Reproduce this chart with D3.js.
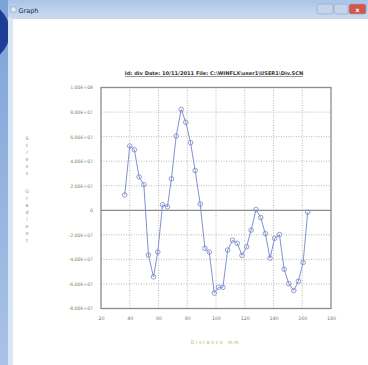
<!DOCTYPE html>
<html>
<head>
<meta charset="utf-8">
<script src="https://cdn.jsdelivr.net/npm/d3@7/dist/d3.min.js"></script>
<style>
  html, body { margin: 0; padding: 0; background: #fff; }
  svg { display: block; }
</style>
</head>
<body>
<svg id="chart" width="368" height="365"></svg>
<script>
// Measured profile: distance (mm) and signal value
const distance = [36.5, 40.0, 43.2, 46.5, 49.8, 53.0, 56.5, 59.5, 62.8, 66.2,
                  69.0, 72.3, 75.8, 79.0, 82.3, 85.5, 89.0, 92.3, 95.3, 98.8,
                  101.8, 104.8, 108.1, 111.5, 114.8, 118.1, 121.3, 124.4, 127.9, 131.1,
                  134.3, 137.6, 140.8, 144.1, 147.4, 150.6, 154.1, 157.3, 160.6, 163.8];
const values = [12.5e6, 52.3e6, 49.3e6, 27.2e6, 20.9e6, -36.5e6, -54.2e6, -34.0e6, 4.5e6, 2.9e6,
                25.6e6, 60.5e6, 82.1e6, 71.7e6, 55.1e6, 32.4e6, 5.1e6, -31.0e6, -34.0e6, -67.4e6,
                -62.7e6, -62.7e6, -32.4e6, -24.4e6, -26.9e6, -36.7e6, -29.7e6, -16.2e6, 0.7e6, -5.9e6,
                -19.0e6, -38.9e6, -22.8e6, -19.8e6, -48.0e6, -59.7e6, -65.4e6, -57.8e6, -42.5e6, -1.5e6];
const xTicks = [20, 40, 60, 80, 100, 120, 140, 160, 180];
const yTicks = [1e8, 8e7, 6e7, 4e7, 2e7, 0, -2e7, -4e7, -6e7, -8e7];
const yTickLabels = ["1.00E+08", "8.00E+07", "6.00E+07", "4.00E+07", "2.00E+07", "0",
                     "-2.00E+07", "-4.00E+07", "-6.00E+07", "-8.00E+07"];
const chartTitle = "Id: div Date: 10/11/2011 File: C:\\WINFLX\\user1\\USER1\\Div.SCN";
const xTitle = "Distance mm";
const yTitleWords = ["Stress", "Gradient"];
const windowTitle = "Graph";

const svg = d3.select("#chart");
const defs = svg.append("defs");

// ---- window frame ----
const leftGrad = defs.append("linearGradient").attr("id", "leftGrad")
  .attr("x1", 0).attr("y1", 0).attr("x2", 0).attr("y2", 1);
leftGrad.append("stop").attr("offset", 0).attr("stop-color", "#7ea3d8");
leftGrad.append("stop").attr("offset", 1).attr("stop-color", "#a9c2e6");

const barGrad = defs.append("linearGradient").attr("id", "barGrad")
  .attr("x1", 0).attr("y1", 0).attr("x2", 0).attr("y2", 1);
barGrad.append("stop").attr("offset", 0).attr("stop-color", "#a9c3e6");
barGrad.append("stop").attr("offset", 0.5).attr("stop-color", "#bcd1ee");
barGrad.append("stop").attr("offset", 1).attr("stop-color", "#c9daf0");

svg.append("rect").attr("width", 368).attr("height", 365).attr("fill", "#ffffff");
svg.append("rect").attr("x", 0).attr("y", 0).attr("width", 9).attr("height", 365)
  .attr("fill", "url(#leftGrad)");
defs.append("clipPath").attr("id", "leftClip")
  .append("rect").attr("x", 0).attr("y", 0).attr("width", 10).attr("height", 365);
svg.append("ellipse").attr("clip-path", "url(#leftClip)")
  .attr("cx", -30).attr("cy", 32).attr("rx", 40).attr("ry", 34).attr("fill", "#1d3d96");
svg.append("rect").attr("x", 8).attr("y", 0).attr("width", 5).attr("height", 365)
  .attr("fill", "#dbe6f4");
svg.append("rect").attr("x", 8).attr("y", 0).attr("width", 360).attr("height", 18)
  .attr("fill", "url(#barGrad)");
svg.append("line").attr("x1", 12).attr("x2", 368).attr("y1", 18.5).attr("y2", 18.5)
  .attr("stroke", "#c8d4e4");
svg.append("rect").attr("x", 11).attr("y", 7).attr("width", 5).attr("height", 5)
  .attr("fill", "#e8eef6").attr("stroke", "#8a9ab0").attr("stroke-width", 0.6);
svg.append("text").attr("x", 18.5).attr("y", 12.5).text(windowTitle)
  .attr("font-family", "DejaVu Sans, sans-serif").attr("font-size", 6.5).attr("fill", "#1e2a3a");

const buttons = [
  { x: 317, w: 16, fill: "#c4d4ea" },
  { x: 334, w: 14, fill: "#c4d4ea" },
  { x: 349, w: 17, fill: "#d4574a" }
];
svg.selectAll("rect.btn").data(buttons).join("rect").attr("class", "btn")
  .attr("x", d => d.x).attr("y", 4).attr("width", d => d.w).attr("height", 10).attr("rx", 2)
  .attr("fill", d => d.fill).attr("stroke", "#8ea3c0").attr("stroke-width", 0.6);
svg.append("text").attr("x", 357.5).attr("y", 11.5).attr("text-anchor", "middle").text("x")
  .attr("font-family", "DejaVu Sans, sans-serif").attr("font-size", 6).attr("font-weight", "bold")
  .attr("fill", "#fff");

// ---- plot ----
const x = d3.scaleLinear().domain([20, 180]).range([101, 331]);
const y = d3.scaleLinear().domain([-8e7, 1e8]).range([308.5, 87.5]);

const grid = svg.append("g");
grid.selectAll("line.vg").data(xTicks.slice(1, -1)).join("line").attr("class", "vg")
  .attr("x1", d => x(d)).attr("x2", d => x(d)).attr("y1", y(1e8)).attr("y2", y(-8e7))
  .attr("stroke", "#aaaaaa").attr("stroke-width", 0.8).attr("stroke-dasharray", "1,1.5");
grid.selectAll("line.hg").data(yTicks.filter(v => v !== 0 && v !== 1e8 && v !== -8e7)).join("line").attr("class", "hg")
  .attr("x1", x(20)).attr("x2", x(180)).attr("y1", d => y(d)).attr("y2", d => y(d))
  .attr("stroke", "#aaaaaa").attr("stroke-width", 0.8).attr("stroke-dasharray", "1,1.5");
grid.append("line").attr("x1", x(20)).attr("x2", x(180)).attr("y1", y(0)).attr("y2", y(0))
  .attr("stroke", "#8a8a8a").attr("stroke-width", 1.2);

svg.append("rect").attr("x", x(20)).attr("y", y(1e8))
  .attr("width", x(180) - x(20)).attr("height", y(-8e7) - y(1e8))
  .attr("fill", "none").attr("stroke", "#8c8c8c").attr("stroke-width", 1.3);

// axes built from the scales, then styled as plain labels
const yAxis = d3.axisLeft(y).tickValues(yTicks).tickSize(0).tickPadding(8)
  .tickFormat((d, i) => yTickLabels[i]);
const gy = svg.append("g").attr("transform", `translate(${x(20)},0)`).call(yAxis);
gy.select(".domain").remove();
gy.selectAll("text").attr("font-family", "DejaVu Sans, sans-serif").attr("font-size", 4.6)
  .attr("fill", "#6f8f63");

const xAxis = d3.axisBottom(x).tickValues(xTicks).tickSize(0).tickPadding(8);
const gx = svg.append("g").attr("transform", `translate(0,${y(-8e7)})`).call(xAxis);
gx.select(".domain").remove();
gx.selectAll("text").attr("font-family", "DejaVu Sans, sans-serif").attr("font-size", 4.8)
  .attr("fill", "#7a7a7a");

// series
const pts = distance.map((d, i) => [d, values[i]]);
svg.append("path").datum(pts)
  .attr("d", d3.line().x(d => x(d[0])).y(d => y(d[1])))
  .attr("fill", "none").attr("stroke", "#8292cf").attr("stroke-width", 1);
svg.selectAll("circle.pt").data(pts).join("circle").attr("class", "pt")
  .attr("cx", d => x(d[0])).attr("cy", d => y(d[1])).attr("r", 2.3)
  .attr("fill", "none").attr("stroke", "#8292cf").attr("stroke-width", 0.9);

// titles
svg.append("text").attr("x", 214).attr("y", 75).attr("text-anchor", "middle")
  .text(chartTitle)
  .attr("font-family", "DejaVu Sans, sans-serif").attr("font-size", 5.1).attr("font-weight", "bold")
  .attr("fill", "#333").attr("text-decoration", "underline");

svg.append("text").attr("x", 215.5).attr("y", 344).attr("text-anchor", "middle")
  .text(xTitle).attr("letter-spacing", 1.6)
  .attr("font-family", "DejaVu Sans, sans-serif").attr("font-size", 4.8)
  .attr("fill", "#b5b548");

// vertical stacked y-axis title letters
const letters = [];
let ly = 140;
yTitleWords.forEach(w => {
  for (const ch of w) { letters.push({ ch, y: ly }); ly += 6.9; }
  ly += 12;
});
svg.selectAll("text.yl").data(letters).join("text").attr("class", "yl")
  .attr("x", 27).attr("y", d => d.y).attr("text-anchor", "middle").text(d => d.ch)
  .attr("font-family", "DejaVu Sans, sans-serif").attr("font-size", 4.8)
  .attr("fill", "#8a8a8a");
</script>
</body>
</html>
